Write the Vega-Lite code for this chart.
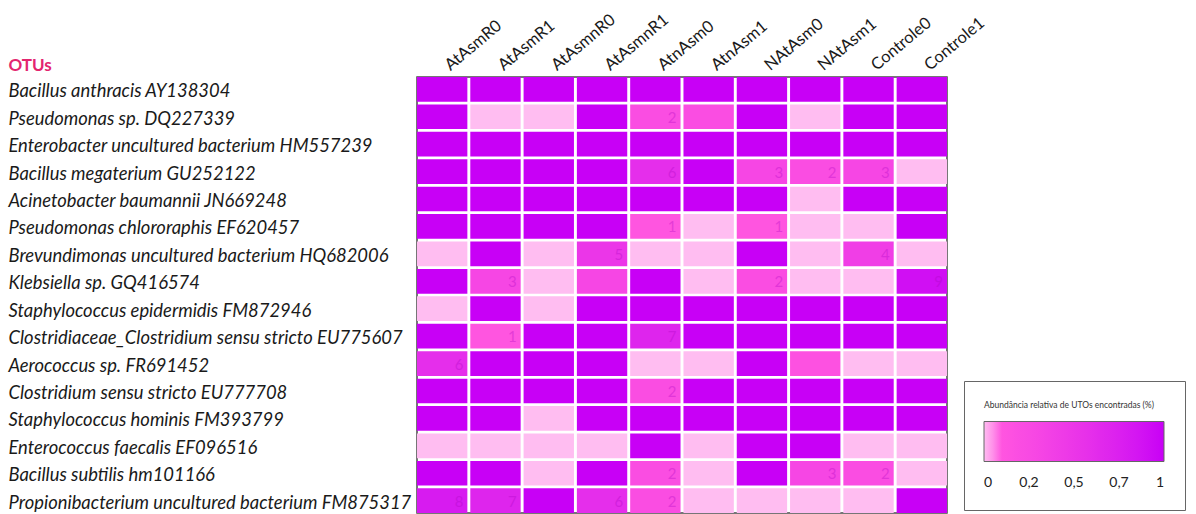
{
  "$schema": "https://vega.github.io/schema/vega-lite/v6.json",
  "autosize": {"type": "none"},
  "padding": {"left": 417, "top": 77, "right": 249, "bottom": 1},
  "width": 530,
  "height": 436,
  "background": "white",
  "config": {
    "view": {"stroke": "#4a4a4a", "strokeWidth": 1.5},
    "font": "Lato"
  },
  "data": {
    "values": [
      {"otu": "Bacillus anthracis AY138304", "amostra": "AtAsmR0", "valor": 1, "rotulo": ""},
      {"otu": "Bacillus anthracis AY138304", "amostra": "AtAsmR1", "valor": 1, "rotulo": ""},
      {"otu": "Bacillus anthracis AY138304", "amostra": "AtAsmnR0", "valor": 1, "rotulo": ""},
      {"otu": "Bacillus anthracis AY138304", "amostra": "AtAsmnR1", "valor": 1, "rotulo": ""},
      {"otu": "Bacillus anthracis AY138304", "amostra": "AtnAsm0", "valor": 1, "rotulo": ""},
      {"otu": "Bacillus anthracis AY138304", "amostra": "AtnAsm1", "valor": 1, "rotulo": ""},
      {"otu": "Bacillus anthracis AY138304", "amostra": "NAtAsm0", "valor": 1, "rotulo": ""},
      {"otu": "Bacillus anthracis AY138304", "amostra": "NAtAsm1", "valor": 1, "rotulo": ""},
      {"otu": "Bacillus anthracis AY138304", "amostra": "Controle0", "valor": 1, "rotulo": ""},
      {"otu": "Bacillus anthracis AY138304", "amostra": "Controle1", "valor": 1, "rotulo": ""},

      {"otu": "Pseudomonas sp. DQ227339", "amostra": "AtAsmR0", "valor": 1, "rotulo": ""},
      {"otu": "Pseudomonas sp. DQ227339", "amostra": "AtAsmR1", "valor": 0, "rotulo": ""},
      {"otu": "Pseudomonas sp. DQ227339", "amostra": "AtAsmnR0", "valor": 0, "rotulo": ""},
      {"otu": "Pseudomonas sp. DQ227339", "amostra": "AtAsmnR1", "valor": 1, "rotulo": ""},
      {"otu": "Pseudomonas sp. DQ227339", "amostra": "AtnAsm0", "valor": 0.2, "rotulo": "2"},
      {"otu": "Pseudomonas sp. DQ227339", "amostra": "AtnAsm1", "valor": 0.2, "rotulo": ""},
      {"otu": "Pseudomonas sp. DQ227339", "amostra": "NAtAsm0", "valor": 1, "rotulo": ""},
      {"otu": "Pseudomonas sp. DQ227339", "amostra": "NAtAsm1", "valor": 0, "rotulo": ""},
      {"otu": "Pseudomonas sp. DQ227339", "amostra": "Controle0", "valor": 1, "rotulo": ""},
      {"otu": "Pseudomonas sp. DQ227339", "amostra": "Controle1", "valor": 1, "rotulo": ""},

      {"otu": "Enterobacter uncultured bacterium HM557239", "amostra": "AtAsmR0", "valor": 1, "rotulo": ""},
      {"otu": "Enterobacter uncultured bacterium HM557239", "amostra": "AtAsmR1", "valor": 1, "rotulo": ""},
      {"otu": "Enterobacter uncultured bacterium HM557239", "amostra": "AtAsmnR0", "valor": 1, "rotulo": ""},
      {"otu": "Enterobacter uncultured bacterium HM557239", "amostra": "AtAsmnR1", "valor": 1, "rotulo": ""},
      {"otu": "Enterobacter uncultured bacterium HM557239", "amostra": "AtnAsm0", "valor": 1, "rotulo": ""},
      {"otu": "Enterobacter uncultured bacterium HM557239", "amostra": "AtnAsm1", "valor": 1, "rotulo": ""},
      {"otu": "Enterobacter uncultured bacterium HM557239", "amostra": "NAtAsm0", "valor": 1, "rotulo": ""},
      {"otu": "Enterobacter uncultured bacterium HM557239", "amostra": "NAtAsm1", "valor": 1, "rotulo": ""},
      {"otu": "Enterobacter uncultured bacterium HM557239", "amostra": "Controle0", "valor": 1, "rotulo": ""},
      {"otu": "Enterobacter uncultured bacterium HM557239", "amostra": "Controle1", "valor": 1, "rotulo": ""},

      {"otu": "Bacillus megaterium GU252122", "amostra": "AtAsmR0", "valor": 1, "rotulo": ""},
      {"otu": "Bacillus megaterium GU252122", "amostra": "AtAsmR1", "valor": 1, "rotulo": ""},
      {"otu": "Bacillus megaterium GU252122", "amostra": "AtAsmnR0", "valor": 1, "rotulo": ""},
      {"otu": "Bacillus megaterium GU252122", "amostra": "AtAsmnR1", "valor": 1, "rotulo": ""},
      {"otu": "Bacillus megaterium GU252122", "amostra": "AtnAsm0", "valor": 0.6, "rotulo": "6"},
      {"otu": "Bacillus megaterium GU252122", "amostra": "AtnAsm1", "valor": 1, "rotulo": ""},
      {"otu": "Bacillus megaterium GU252122", "amostra": "NAtAsm0", "valor": 0.3, "rotulo": "3"},
      {"otu": "Bacillus megaterium GU252122", "amostra": "NAtAsm1", "valor": 0.2, "rotulo": "2"},
      {"otu": "Bacillus megaterium GU252122", "amostra": "Controle0", "valor": 0.3, "rotulo": "3"},
      {"otu": "Bacillus megaterium GU252122", "amostra": "Controle1", "valor": 0, "rotulo": ""},

      {"otu": "Acinetobacter baumannii JN669248", "amostra": "AtAsmR0", "valor": 1, "rotulo": ""},
      {"otu": "Acinetobacter baumannii JN669248", "amostra": "AtAsmR1", "valor": 1, "rotulo": ""},
      {"otu": "Acinetobacter baumannii JN669248", "amostra": "AtAsmnR0", "valor": 1, "rotulo": ""},
      {"otu": "Acinetobacter baumannii JN669248", "amostra": "AtAsmnR1", "valor": 1, "rotulo": ""},
      {"otu": "Acinetobacter baumannii JN669248", "amostra": "AtnAsm0", "valor": 1, "rotulo": ""},
      {"otu": "Acinetobacter baumannii JN669248", "amostra": "AtnAsm1", "valor": 1, "rotulo": ""},
      {"otu": "Acinetobacter baumannii JN669248", "amostra": "NAtAsm0", "valor": 1, "rotulo": ""},
      {"otu": "Acinetobacter baumannii JN669248", "amostra": "NAtAsm1", "valor": 0, "rotulo": ""},
      {"otu": "Acinetobacter baumannii JN669248", "amostra": "Controle0", "valor": 1, "rotulo": ""},
      {"otu": "Acinetobacter baumannii JN669248", "amostra": "Controle1", "valor": 1, "rotulo": ""},

      {"otu": "Pseudomonas chlororaphis EF620457", "amostra": "AtAsmR0", "valor": 1, "rotulo": ""},
      {"otu": "Pseudomonas chlororaphis EF620457", "amostra": "AtAsmR1", "valor": 1, "rotulo": ""},
      {"otu": "Pseudomonas chlororaphis EF620457", "amostra": "AtAsmnR0", "valor": 1, "rotulo": ""},
      {"otu": "Pseudomonas chlororaphis EF620457", "amostra": "AtAsmnR1", "valor": 1, "rotulo": ""},
      {"otu": "Pseudomonas chlororaphis EF620457", "amostra": "AtnAsm0", "valor": 0.1, "rotulo": "1"},
      {"otu": "Pseudomonas chlororaphis EF620457", "amostra": "AtnAsm1", "valor": 0, "rotulo": ""},
      {"otu": "Pseudomonas chlororaphis EF620457", "amostra": "NAtAsm0", "valor": 0.1, "rotulo": "1"},
      {"otu": "Pseudomonas chlororaphis EF620457", "amostra": "NAtAsm1", "valor": 0, "rotulo": ""},
      {"otu": "Pseudomonas chlororaphis EF620457", "amostra": "Controle0", "valor": 0, "rotulo": ""},
      {"otu": "Pseudomonas chlororaphis EF620457", "amostra": "Controle1", "valor": 1, "rotulo": ""},

      {"otu": "Brevundimonas uncultured bacterium HQ682006", "amostra": "AtAsmR0", "valor": 0, "rotulo": ""},
      {"otu": "Brevundimonas uncultured bacterium HQ682006", "amostra": "AtAsmR1", "valor": 1, "rotulo": ""},
      {"otu": "Brevundimonas uncultured bacterium HQ682006", "amostra": "AtAsmnR0", "valor": 0, "rotulo": ""},
      {"otu": "Brevundimonas uncultured bacterium HQ682006", "amostra": "AtAsmnR1", "valor": 0.5, "rotulo": "5"},
      {"otu": "Brevundimonas uncultured bacterium HQ682006", "amostra": "AtnAsm0", "valor": 0, "rotulo": ""},
      {"otu": "Brevundimonas uncultured bacterium HQ682006", "amostra": "AtnAsm1", "valor": 0, "rotulo": ""},
      {"otu": "Brevundimonas uncultured bacterium HQ682006", "amostra": "NAtAsm0", "valor": 1, "rotulo": ""},
      {"otu": "Brevundimonas uncultured bacterium HQ682006", "amostra": "NAtAsm1", "valor": 0, "rotulo": ""},
      {"otu": "Brevundimonas uncultured bacterium HQ682006", "amostra": "Controle0", "valor": 0.4, "rotulo": "4"},
      {"otu": "Brevundimonas uncultured bacterium HQ682006", "amostra": "Controle1", "valor": 0, "rotulo": ""},

      {"otu": "Klebsiella sp. GQ416574", "amostra": "AtAsmR0", "valor": 1, "rotulo": ""},
      {"otu": "Klebsiella sp. GQ416574", "amostra": "AtAsmR1", "valor": 0.3, "rotulo": "3"},
      {"otu": "Klebsiella sp. GQ416574", "amostra": "AtAsmnR0", "valor": 0, "rotulo": ""},
      {"otu": "Klebsiella sp. GQ416574", "amostra": "AtAsmnR1", "valor": 0.3, "rotulo": ""},
      {"otu": "Klebsiella sp. GQ416574", "amostra": "AtnAsm0", "valor": 1, "rotulo": ""},
      {"otu": "Klebsiella sp. GQ416574", "amostra": "AtnAsm1", "valor": 0, "rotulo": ""},
      {"otu": "Klebsiella sp. GQ416574", "amostra": "NAtAsm0", "valor": 0.2, "rotulo": "2"},
      {"otu": "Klebsiella sp. GQ416574", "amostra": "NAtAsm1", "valor": 0, "rotulo": ""},
      {"otu": "Klebsiella sp. GQ416574", "amostra": "Controle0", "valor": 0, "rotulo": ""},
      {"otu": "Klebsiella sp. GQ416574", "amostra": "Controle1", "valor": 0.9, "rotulo": "9"},

      {"otu": "Staphylococcus epidermidis FM872946", "amostra": "AtAsmR0", "valor": 0, "rotulo": ""},
      {"otu": "Staphylococcus epidermidis FM872946", "amostra": "AtAsmR1", "valor": 1, "rotulo": ""},
      {"otu": "Staphylococcus epidermidis FM872946", "amostra": "AtAsmnR0", "valor": 0, "rotulo": ""},
      {"otu": "Staphylococcus epidermidis FM872946", "amostra": "AtAsmnR1", "valor": 1, "rotulo": ""},
      {"otu": "Staphylococcus epidermidis FM872946", "amostra": "AtnAsm0", "valor": 1, "rotulo": ""},
      {"otu": "Staphylococcus epidermidis FM872946", "amostra": "AtnAsm1", "valor": 1, "rotulo": ""},
      {"otu": "Staphylococcus epidermidis FM872946", "amostra": "NAtAsm0", "valor": 1, "rotulo": ""},
      {"otu": "Staphylococcus epidermidis FM872946", "amostra": "NAtAsm1", "valor": 1, "rotulo": ""},
      {"otu": "Staphylococcus epidermidis FM872946", "amostra": "Controle0", "valor": 1, "rotulo": ""},
      {"otu": "Staphylococcus epidermidis FM872946", "amostra": "Controle1", "valor": 1, "rotulo": ""},

      {"otu": "Clostridiaceae_Clostridium sensu stricto EU775607", "amostra": "AtAsmR0", "valor": 1, "rotulo": ""},
      {"otu": "Clostridiaceae_Clostridium sensu stricto EU775607", "amostra": "AtAsmR1", "valor": 0.1, "rotulo": "1"},
      {"otu": "Clostridiaceae_Clostridium sensu stricto EU775607", "amostra": "AtAsmnR0", "valor": 1, "rotulo": ""},
      {"otu": "Clostridiaceae_Clostridium sensu stricto EU775607", "amostra": "AtAsmnR1", "valor": 1, "rotulo": ""},
      {"otu": "Clostridiaceae_Clostridium sensu stricto EU775607", "amostra": "AtnAsm0", "valor": 0.7, "rotulo": "7"},
      {"otu": "Clostridiaceae_Clostridium sensu stricto EU775607", "amostra": "AtnAsm1", "valor": 1, "rotulo": ""},
      {"otu": "Clostridiaceae_Clostridium sensu stricto EU775607", "amostra": "NAtAsm0", "valor": 1, "rotulo": ""},
      {"otu": "Clostridiaceae_Clostridium sensu stricto EU775607", "amostra": "NAtAsm1", "valor": 1, "rotulo": ""},
      {"otu": "Clostridiaceae_Clostridium sensu stricto EU775607", "amostra": "Controle0", "valor": 1, "rotulo": ""},
      {"otu": "Clostridiaceae_Clostridium sensu stricto EU775607", "amostra": "Controle1", "valor": 1, "rotulo": ""},

      {"otu": "Aerococcus sp. FR691452", "amostra": "AtAsmR0", "valor": 0.6, "rotulo": "6"},
      {"otu": "Aerococcus sp. FR691452", "amostra": "AtAsmR1", "valor": 1, "rotulo": ""},
      {"otu": "Aerococcus sp. FR691452", "amostra": "AtAsmnR0", "valor": 1, "rotulo": ""},
      {"otu": "Aerococcus sp. FR691452", "amostra": "AtAsmnR1", "valor": 1, "rotulo": ""},
      {"otu": "Aerococcus sp. FR691452", "amostra": "AtnAsm0", "valor": 0, "rotulo": ""},
      {"otu": "Aerococcus sp. FR691452", "amostra": "AtnAsm1", "valor": 0, "rotulo": ""},
      {"otu": "Aerococcus sp. FR691452", "amostra": "NAtAsm0", "valor": 1, "rotulo": ""},
      {"otu": "Aerococcus sp. FR691452", "amostra": "NAtAsm1", "valor": 0.15, "rotulo": ""},
      {"otu": "Aerococcus sp. FR691452", "amostra": "Controle0", "valor": 0, "rotulo": ""},
      {"otu": "Aerococcus sp. FR691452", "amostra": "Controle1", "valor": 0, "rotulo": ""},

      {"otu": "Clostridium sensu stricto EU777708", "amostra": "AtAsmR0", "valor": 1, "rotulo": ""},
      {"otu": "Clostridium sensu stricto EU777708", "amostra": "AtAsmR1", "valor": 1, "rotulo": ""},
      {"otu": "Clostridium sensu stricto EU777708", "amostra": "AtAsmnR0", "valor": 1, "rotulo": ""},
      {"otu": "Clostridium sensu stricto EU777708", "amostra": "AtAsmnR1", "valor": 1, "rotulo": ""},
      {"otu": "Clostridium sensu stricto EU777708", "amostra": "AtnAsm0", "valor": 0.2, "rotulo": "2"},
      {"otu": "Clostridium sensu stricto EU777708", "amostra": "AtnAsm1", "valor": 1, "rotulo": ""},
      {"otu": "Clostridium sensu stricto EU777708", "amostra": "NAtAsm0", "valor": 1, "rotulo": ""},
      {"otu": "Clostridium sensu stricto EU777708", "amostra": "NAtAsm1", "valor": 1, "rotulo": ""},
      {"otu": "Clostridium sensu stricto EU777708", "amostra": "Controle0", "valor": 1, "rotulo": ""},
      {"otu": "Clostridium sensu stricto EU777708", "amostra": "Controle1", "valor": 1, "rotulo": ""},

      {"otu": "Staphylococcus hominis FM393799", "amostra": "AtAsmR0", "valor": 1, "rotulo": ""},
      {"otu": "Staphylococcus hominis FM393799", "amostra": "AtAsmR1", "valor": 1, "rotulo": ""},
      {"otu": "Staphylococcus hominis FM393799", "amostra": "AtAsmnR0", "valor": 0, "rotulo": ""},
      {"otu": "Staphylococcus hominis FM393799", "amostra": "AtAsmnR1", "valor": 1, "rotulo": ""},
      {"otu": "Staphylococcus hominis FM393799", "amostra": "AtnAsm0", "valor": 1, "rotulo": ""},
      {"otu": "Staphylococcus hominis FM393799", "amostra": "AtnAsm1", "valor": 1, "rotulo": ""},
      {"otu": "Staphylococcus hominis FM393799", "amostra": "NAtAsm0", "valor": 1, "rotulo": ""},
      {"otu": "Staphylococcus hominis FM393799", "amostra": "NAtAsm1", "valor": 1, "rotulo": ""},
      {"otu": "Staphylococcus hominis FM393799", "amostra": "Controle0", "valor": 1, "rotulo": ""},
      {"otu": "Staphylococcus hominis FM393799", "amostra": "Controle1", "valor": 1, "rotulo": ""},

      {"otu": "Enterococcus faecalis EF096516", "amostra": "AtAsmR0", "valor": 0, "rotulo": ""},
      {"otu": "Enterococcus faecalis EF096516", "amostra": "AtAsmR1", "valor": 0, "rotulo": ""},
      {"otu": "Enterococcus faecalis EF096516", "amostra": "AtAsmnR0", "valor": 0, "rotulo": ""},
      {"otu": "Enterococcus faecalis EF096516", "amostra": "AtAsmnR1", "valor": 0, "rotulo": ""},
      {"otu": "Enterococcus faecalis EF096516", "amostra": "AtnAsm0", "valor": 1, "rotulo": ""},
      {"otu": "Enterococcus faecalis EF096516", "amostra": "AtnAsm1", "valor": 0, "rotulo": ""},
      {"otu": "Enterococcus faecalis EF096516", "amostra": "NAtAsm0", "valor": 1, "rotulo": ""},
      {"otu": "Enterococcus faecalis EF096516", "amostra": "NAtAsm1", "valor": 1, "rotulo": ""},
      {"otu": "Enterococcus faecalis EF096516", "amostra": "Controle0", "valor": 0, "rotulo": ""},
      {"otu": "Enterococcus faecalis EF096516", "amostra": "Controle1", "valor": 0, "rotulo": ""},

      {"otu": "Bacillus subtilis hm101166", "amostra": "AtAsmR0", "valor": 1, "rotulo": ""},
      {"otu": "Bacillus subtilis hm101166", "amostra": "AtAsmR1", "valor": 1, "rotulo": ""},
      {"otu": "Bacillus subtilis hm101166", "amostra": "AtAsmnR0", "valor": 0, "rotulo": ""},
      {"otu": "Bacillus subtilis hm101166", "amostra": "AtAsmnR1", "valor": 1, "rotulo": ""},
      {"otu": "Bacillus subtilis hm101166", "amostra": "AtnAsm0", "valor": 0.2, "rotulo": "2"},
      {"otu": "Bacillus subtilis hm101166", "amostra": "AtnAsm1", "valor": 0, "rotulo": ""},
      {"otu": "Bacillus subtilis hm101166", "amostra": "NAtAsm0", "valor": 1, "rotulo": ""},
      {"otu": "Bacillus subtilis hm101166", "amostra": "NAtAsm1", "valor": 0.3, "rotulo": "3"},
      {"otu": "Bacillus subtilis hm101166", "amostra": "Controle0", "valor": 0.2, "rotulo": "2"},
      {"otu": "Bacillus subtilis hm101166", "amostra": "Controle1", "valor": 0, "rotulo": ""},

      {"otu": "Propionibacterium uncultured bacterium FM875317", "amostra": "AtAsmR0", "valor": 0.8, "rotulo": "8"},
      {"otu": "Propionibacterium uncultured bacterium FM875317", "amostra": "AtAsmR1", "valor": 0.7, "rotulo": "7"},
      {"otu": "Propionibacterium uncultured bacterium FM875317", "amostra": "AtAsmnR0", "valor": 1, "rotulo": ""},
      {"otu": "Propionibacterium uncultured bacterium FM875317", "amostra": "AtAsmnR1", "valor": 0.6, "rotulo": "6"},
      {"otu": "Propionibacterium uncultured bacterium FM875317", "amostra": "AtnAsm0", "valor": 0.2, "rotulo": "2"},
      {"otu": "Propionibacterium uncultured bacterium FM875317", "amostra": "AtnAsm1", "valor": 0, "rotulo": ""},
      {"otu": "Propionibacterium uncultured bacterium FM875317", "amostra": "NAtAsm0", "valor": 0, "rotulo": ""},
      {"otu": "Propionibacterium uncultured bacterium FM875317", "amostra": "NAtAsm1", "valor": 0, "rotulo": ""},
      {"otu": "Propionibacterium uncultured bacterium FM875317", "amostra": "Controle0", "valor": 0, "rotulo": ""},
      {"otu": "Propionibacterium uncultured bacterium FM875317", "amostra": "Controle1", "valor": 1, "rotulo": ""}
    ]
  },
  "encoding": {
    "x": {
      "field": "amostra",
      "type": "nominal",
      "sort": null,
      "scale": {"paddingInner": 0.055, "paddingOuter": 0},
      "axis": {
        "orient": "top",
        "title": null,
        "domain": false,
        "ticks": false,
        "tickSize": 0,
        "labelAngle": -40,
        "labelAlign": "left",
        "labelBaseline": "middle",
        "labelPadding": 10,
        "labelOffset": 5,
        "labelFont": "Lato",
        "labelFontSize": 16.5,
        "labelColor": "#1a1a1a"
      }
    },
    "y": {
      "field": "otu",
      "type": "nominal",
      "sort": null,
      "scale": {"paddingInner": 0.1, "paddingOuter": 0},
      "axis": {
        "title": "OTUs",
        "titleAngle": 0,
        "titleAlign": "left",
        "titleBaseline": "middle",
        "titleX": -409,
        "titleY": -12,
        "titleFont": "Lato",
        "titleFontSize": 17,
        "titleFontWeight": "bold",
        "titleColor": "#e3256f",
        "domain": false,
        "ticks": false,
        "tickSize": 0,
        "labelPadding": 409,
        "labelAlign": "left",
        "labelOffset": 2,
        "labelLimit": 0,
        "labelFont": "Lato",
        "labelFontStyle": "italic",
        "labelFontSize": 18.4,
        "labelColor": "#1a1a1a"
      }
    }
  },
  "layer": [
    {
      "mark": {"type": "rect"},
      "encoding": {
        "color": {
          "field": "valor",
          "type": "quantitative",
          "scale": {
            "domain": [0, 0.1, 1],
            "range": ["#ffbdf1", "#ff55e0", "#c800f6"]
          },
          "legend": {
            "orient": "none",
            "legendX": 547,
            "legendY": 304,
            "direction": "horizontal",
            "title": "Abundância relativa de UTOs encontradas (%)",
            "titleFont": "Lato",
            "titleFontSize": 8.5,
            "titleFontWeight": "normal",
            "titleColor": "#333333",
            "titlePadding": 12,
            "gradientLength": 180,
            "gradientThickness": 40,
            "gradientStrokeColor": "#666666",
            "gradientStrokeWidth": 1,
            "values": [0, 0.25, 0.5, 0.75, 1],
            "labelExpr": "replace(toString(floor(datum.value * 10) / 10), '.', ',')",
            "labelOverlap": false,
            "labelFont": "Lato",
            "labelFontSize": 14,
            "labelColor": "#222222",
            "labelOffset": 14,
            "padding": 20,
            "fillColor": "white",
            "strokeColor": "#666666"
          }
        }
      }
    },
    {
      "mark": {
        "type": "text",
        "align": "right",
        "baseline": "middle",
        "dx": -4,
        "dy": 1,
        "font": "Lato",
        "fontSize": 15,
        "fill": "#a800c0",
        "opacity": 0.3
      },
      "encoding": {
        "x": {"field": "amostra", "type": "nominal", "sort": null, "bandPosition": 1},
        "text": {"field": "rotulo"}
      }
    }
  ]
}
